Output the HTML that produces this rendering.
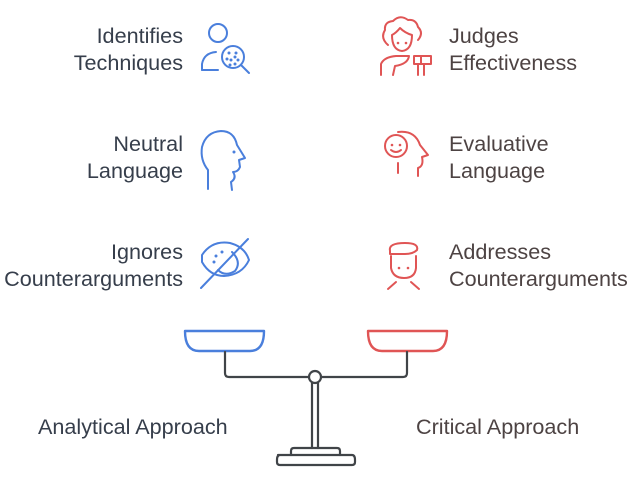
<!DOCTYPE html>
<html><head><meta charset="utf-8"><style>
body{margin:0;width:640px;height:500px;background:#fff;overflow:hidden;position:relative;font-family:"Liberation Sans",sans-serif}
.t{position:absolute;font-size:21.6px;line-height:27px;white-space:nowrap}
.l{right:457px;text-align:right;color:#363e4b}
.r{left:449px;color:#4d4343}
</style></head><body>
<div class="t l" style="top:22px">Identifies<br>Techniques</div>
<div class="t l" style="top:130px">Neutral<br>Language</div>
<div class="t l" style="top:238px">Ignores<br>Counterarguments</div>
<div class="t r" style="top:22px">Judges<br>Effectiveness</div>
<div class="t r" style="top:130px">Evaluative<br>Language</div>
<div class="t r" style="top:238px">Addresses<br>Counterarguments</div>
<div class="t" style="left:38px;top:413px;color:#363e4b">Analytical Approach</div>
<div class="t" style="left:416px;top:413px;color:#4d4343">Critical Approach</div>
<svg width="640" height="500" style="position:absolute;left:0;top:0" fill="none" stroke-linecap="round" stroke-linejoin="round">
<g stroke="#4a7fdc" stroke-width="2">
<circle cx="218" cy="33" r="9"/>
<path d="M202 70 L202 64 Q204 53 216 52"/>
<path d="M202 70 L218 70"/>
<circle cx="233" cy="57" r="11"/>
<path d="M241 65 L249 73"/>
<path d="M208 189 L208 170 Q200 160 202 147 Q206 132 221 131 Q234 131 237 145 L245 158 L239 160 L240 167 Q238 172 233 172 Q237 178 231 182 L232 190"/>
<path d="M202 255 Q212 240 230 243 Q245 247 249 260 Q242 275 224 276 Q210 276 202 262 Z"/>
<path d="M232 252 Q242 262 235 271 Q225 277 218 270"/>
<path d="M201 288 L248 239"/>
</g>
<g fill="#4a7fdc"><circle cx="229" cy="53" r="1.5"/><circle cx="236" cy="53" r="1.5"/><circle cx="231" cy="60" r="1.5"/><circle cx="227" cy="59" r="1.5"/><circle cx="238" cy="60" r="1.5"/><circle cx="235" cy="64" r="1.5"/><circle cx="230" cy="65" r="1.5"/><circle cx="235" cy="57" r="1.5"/><circle cx="234" cy="152" r="1.5"/><circle cx="216" cy="256" r="1.5"/><circle cx="222" cy="252" r="1.5"/><circle cx="214" cy="262" r="1.5"/></g>
<g stroke="#e05555" stroke-width="2">
<path d="M388 45 Q380 38 385 30 Q384 22 393 21 Q400 14 408 20 Q416 19 418 27 Q424 33 418 40"/>
<path d="M392 35 Q392 50 402 51 Q412 50 412 35 Q405 33 400 28 Q396 33 392 35"/>
<path d="M381 75 L381 64 Q384 57 396 56 L409 56 Q408 64 395 66 L393 75"/>
<path d="M414 56 L431 56 L431 64 L414 64 Z M421 56 L421 64 M424 64 L424 75 M418 64 L418 75"/>
<path d="M398 132 Q415 130 420 145 L428 155 L422 157 Q424 166 418 168 L418 176"/>
<circle cx="396" cy="146" r="11"/>
<path d="M391 150 Q396 154 401 150"/>
<path d="M398 163 L398 173"/>
<path d="M390 251 Q388 243 405 243 Q419 243 417 250 Q413 254 405 254 L390 254 Z"/>
<path d="M391 256 L391 268 Q393 278 404 278 Q415 278 416 268 L416 256"/>
<path d="M388 289 L396 282 M419 289 L411 282"/>
</g>
<g fill="#e05555"><circle cx="398" cy="43" r="1.3"/><circle cx="406" cy="43" r="1.3"/><circle cx="392" cy="145" r="1.3"/><circle cx="400" cy="145" r="1.3"/><circle cx="399" cy="268" r="1.3"/><circle cx="408" cy="268" r="1.3"/></g>
<path d="M185 331 L264 331 Q264 351 250 351 L199 351 Q185 351 185 331 Z" stroke="#4a7fdc" stroke-width="2.4"/>
<path d="M368 331 L447 331 Q447 351 433 351 L382 351 Q368 351 368 331 Z" stroke="#e05555" stroke-width="2.4"/>
<g stroke="#404448" stroke-width="2.2">
<path d="M225 352 L225 373 Q225 377 229 377 L309 377 M321 377 L403 377 Q407 377 407 373 L407 352"/>
<circle cx="315" cy="377" r="6" fill="#fff"/>
<path d="M312 383 L312 448 M318 383 L318 448"/>
<path d="M291 455 L291 451 Q291 448 294 448 L337 448 Q340 448 340 451 L340 455"/>
<path d="M278 455 L352 455 Q355 455 355 460 L355 462 Q355 465 352 465 L280 465 Q277 465 277 462 L277 460 Q277 455 280 455"/>
</g>
</svg>
</body></html>
